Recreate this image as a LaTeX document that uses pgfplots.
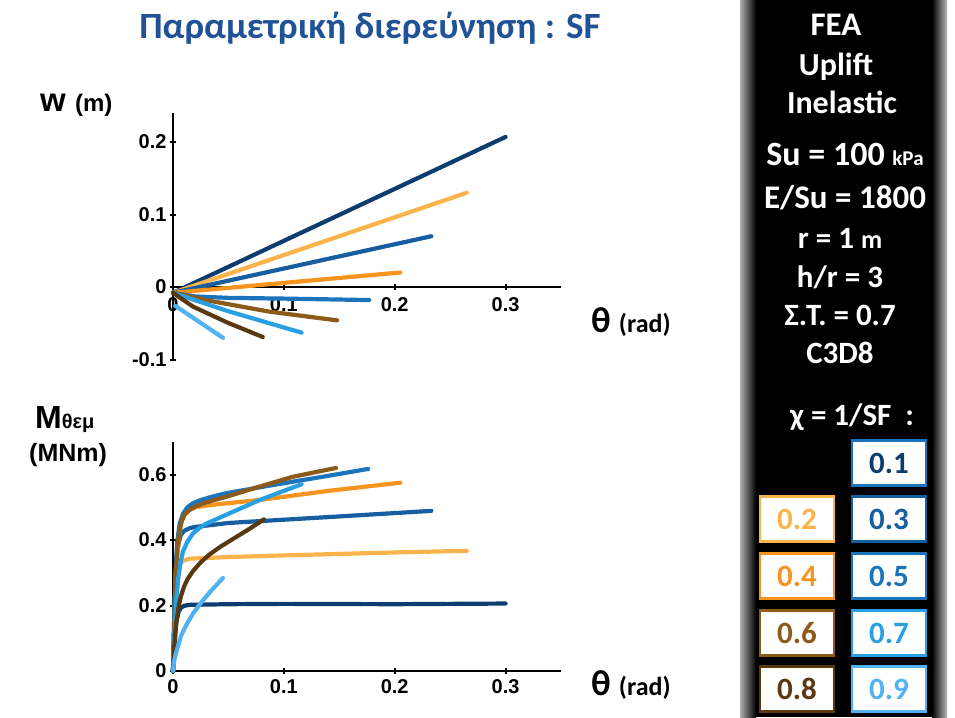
\documentclass[border=0pt]{standalone}
\usepackage{pgfplots}
\pgfplotsset{compat=1.18}
\usepackage{fontspec}
\setmainfont{Carlito}
\newfontfamily\arial{Liberation Sans}
\definecolor{c1}{RGB}{13,61,110}
\definecolor{c2}{RGB}{250,180,75}
\definecolor{c3}{RGB}{22,94,160}
\definecolor{c4}{RGB}{247,148,29}
\definecolor{c5}{RGB}{28,117,188}
\definecolor{c6}{RGB}{140,90,25}
\definecolor{c7}{RGB}{42,160,228}
\definecolor{c8}{RGB}{90,56,18}
\definecolor{c9}{RGB}{80,178,240}
\definecolor{titleblue}{RGB}{32,82,150}
\pgfplotsset{myax/.style={scale only axis, width=388pt, xmin=0, xmax=0.35, clip=false,
  xtick={0,0.1,0.2,0.3},
  tick style={line width=2pt, black}, major tick length=6pt, tick align=outside,
  ticklabel style={font=\arial\bfseries\fontsize{20}{20}\selectfont},
  /pgf/number format/assume math mode=true,
  yticklabel style={/pgf/number format/fixed},
  hide obscured x ticks=false, hide obscured y ticks=false,
  every axis plot/.append style={line width=4.2pt, line join=round, line cap=round, no markers}}}
\begin{document}
\begin{tikzpicture}[x=1pt,y=1pt]
\useasboundingbox (0,0) rectangle (955,-717);
% right panel
\fill[black] (740,0) rectangle (947,-717);
\shade[left color=gray!65, right color=black] (740,0) rectangle (756,-717);
\shade[left color=black, right color=gray!55] (932,0) rectangle (947,-717);
% title
\node[anchor=base, text=titleblue, font=\bfseries\fontsize{37}{37}\selectfont] at (370,-38) {Παραμετρική διερεύνηση : SF};
% panel text
\begin{scope}[every node/.style={anchor=base, text=white, font=\bfseries\fontsize{31}{31}\selectfont}]
\node at (836,-36) {\fontsize{33}{33}\selectfont FEA};
\node at (836,-75) {\fontsize{32}{32}\selectfont Uplift};
\node at (842,-113) {\fontsize{32}{32}\selectfont Inelastic};
\node at (845,-165) {\fontsize{34}{34}\selectfont Su = 100 \fontsize{21}{21}\selectfont kPa};
\node at (845,-208) {\fontsize{33}{33}\selectfont E/Su = 1800};
\node at (840,-248) {r = 1 \fontsize{26}{26}\selectfont m};
\node at (840,-287) {h/r = 3};
\node at (840,-325) {Σ.Τ. = 0.7};
\node at (840,-363) {C3D8};
\node at (852,-425) {χ = 1/SF~~:};
\end{scope}
% legend boxes
\begin{scope}[every node/.style={fill=white, line width=2.5pt, minimum width=74pt, minimum height=45pt, inner sep=0pt, font=\bfseries\fontsize{31}{31}\selectfont}]
\node[draw=c5, text=c1] at (889,-463) {0.1};
\node[draw=c2, text=c2] at (797,-519) {0.2};
\node[draw=c3, text=c3] at (889,-519) {0.3};
\node[draw=c4, text=c4] at (797,-576) {0.4};
\node[draw=c5, text=c5] at (889,-576) {0.5};
\node[draw=c6, text=c6] at (797,-633) {0.6};
\node[draw=c7, text=c7] at (889,-633) {0.7};
\node[draw=c8, text=c8] at (797,-689) {0.8};
\node[draw=c9, text=c9] at (889,-689) {0.9};
\end{scope}
% axis labels
\node[anchor=base west, inner sep=0pt] at (40,-111) {\arial\bfseries\fontsize{33}{33}\selectfont w \fontsize{24}{24}\selectfont (m)};
\node[anchor=base west, inner sep=0pt] at (591,-332) {\bfseries\fontsize{36}{36}\selectfont θ \fontsize{26}{26}\selectfont (rad)};
\node[anchor=base west, inner sep=0pt] at (591,-695) {\bfseries\fontsize{36}{36}\selectfont θ \fontsize{26}{26}\selectfont (rad)};
\node[anchor=base west, inner sep=0pt] at (35,-428) {\arial\bfseries\fontsize{32}{32}\selectfont M\fontsize{20}{20}\selectfont θεμ};
\node[anchor=base west, inner sep=0pt] at (29,-461) {\arial\bfseries\fontsize{25}{25}\selectfont (MNm)};
% top axis
\begin{axis}[myax, at={(173pt,-359.5pt)}, anchor=south west, height=246.5pt,
  ymin=-0.1, ymax=0.24, axis x line=middle, axis y line=left,
  axis line style={-, line width=2.2pt},
  every inner x axis line/.append style={-},
  every outer y axis line/.append style={-},
  xticklabel style={yshift=-4pt},
  ytick={-0.1,0,0.1,0.2}]
\addplot[c1] coordinates {(0,-0.008) (0.3,0.207)};
\addplot[c2] coordinates {(0,-0.008) (0.265,0.13)};
\addplot[c3] coordinates {(0,-0.008) (0.233,0.07)};
\addplot[c4] coordinates {(0,-0.008) (0.205,0.02)};
\addplot[c5] coordinates {(0,-0.008) (0.02,-0.013) (0.05,-0.015) (0.1,-0.016) (0.177,-0.018)};
\addplot[c6] coordinates {(0,-0.008) (0.033,-0.019) (0.087,-0.034) (0.148,-0.046)};
\addplot[c7] coordinates {(0,-0.008) (0.049,-0.033) (0.116,-0.063)};
\addplot[c8] coordinates {(0,-0.008) (0.018,-0.027) (0.049,-0.049) (0.081,-0.069)};
\addplot[c9] coordinates {(0.002,-0.026) (0.045,-0.07)};
\end{axis}
% bottom axis
\begin{axis}[myax, at={(173pt,-671pt)}, anchor=south west, height=229.25pt,
  ymin=0, ymax=0.7, axis lines=left,
  axis line style={-, line width=2.2pt},
  every outer x axis line/.append style={-},
  every outer y axis line/.append style={-},
  xticklabel style={yshift=-2pt},
  ytick={0,0.2,0.4,0.6}]
\addplot[c1] coordinates {(0,0) (0.001,0.06) (0.002,0.11) (0.003,0.15) (0.005,0.18) (0.007,0.193) (0.01,0.199) (0.015,0.202) (0.05,0.204) (0.1,0.205) (0.2,0.204) (0.3,0.206)};
\addplot[c2] coordinates {(0,0) (0.001,0.12) (0.002,0.2) (0.003,0.26) (0.005,0.31) (0.007,0.33) (0.01,0.338) (0.015,0.343) (0.05,0.348) (0.1,0.353) (0.2,0.362) (0.265,0.367)};
\addplot[c3] coordinates {(0,0) (0.001,0.15) (0.002,0.27) (0.003,0.34) (0.005,0.39) (0.007,0.415) (0.01,0.428) (0.015,0.436) (0.02,0.44) (0.05,0.452) (0.1,0.462) (0.15,0.472) (0.233,0.489)};
\addplot[c4] coordinates {(0,0) (0.001,0.12) (0.002,0.24) (0.003,0.32) (0.005,0.4) (0.007,0.45) (0.01,0.475) (0.015,0.492) (0.02,0.5) (0.03,0.505) (0.04,0.509) (0.08,0.523) (0.14,0.55) (0.205,0.575)};
\addplot[c5] coordinates {(0,0) (0.001,0.15) (0.002,0.27) (0.003,0.35) (0.004,0.4) (0.006,0.45) (0.009,0.48) (0.013,0.5) (0.018,0.512) (0.025,0.522) (0.035,0.532) (0.048,0.543) (0.065,0.553) (0.08,0.562) (0.108,0.578) (0.14,0.596) (0.176,0.617)};
\addplot[c6] coordinates {(0,0) (0.001,0.12) (0.002,0.24) (0.003,0.32) (0.004,0.38) (0.006,0.43) (0.008,0.46) (0.011,0.48) (0.015,0.492) (0.02,0.502) (0.03,0.515) (0.048,0.532) (0.078,0.563) (0.108,0.593) (0.147,0.62)};
\addplot[c7] coordinates {(0,0) (0.001,0.09) (0.002,0.16) (0.003,0.22) (0.005,0.29) (0.007,0.335) (0.009,0.365) (0.013,0.395) (0.018,0.42) (0.024,0.437) (0.03,0.45) (0.04,0.465) (0.05,0.48) (0.06,0.495) (0.078,0.522) (0.1,0.55) (0.116,0.57)};
\addplot[c8] coordinates {(0,0) (0.001,0.07) (0.002,0.115) (0.003,0.15) (0.005,0.195) (0.007,0.227) (0.01,0.258) (0.013,0.28) (0.018,0.305) (0.025,0.332) (0.033,0.356) (0.043,0.38) (0.055,0.405) (0.068,0.432) (0.082,0.463)};
\addplot[c9] coordinates {(0,0) (0.001,0.03) (0.002,0.045) (0.004,0.07) (0.007,0.105) (0.01,0.127) (0.013,0.147) (0.018,0.175) (0.025,0.207) (0.033,0.24) (0.045,0.284)};
\end{axis}
\end{tikzpicture}
\end{document}
